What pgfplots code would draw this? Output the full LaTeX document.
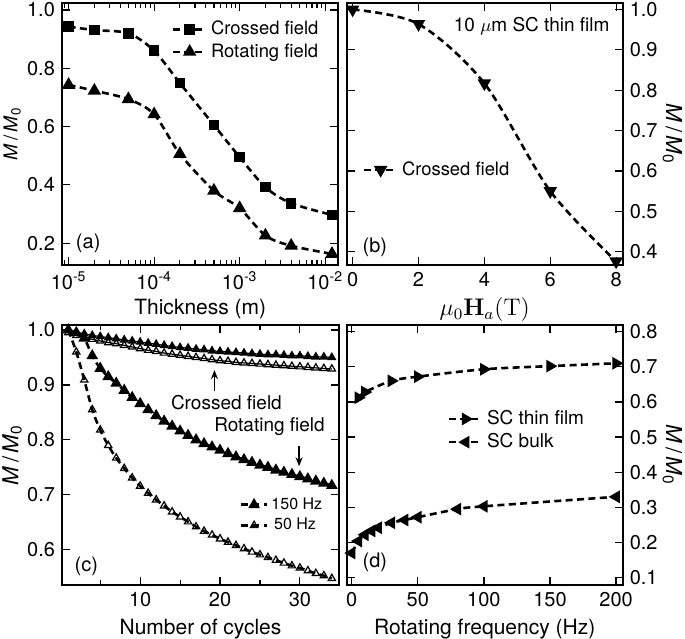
\documentclass[border=0pt]{standalone}
\usepackage[no-math]{fontspec}
\setmainfont{TeX Gyre Heros}
\usepackage{pgfplots}
\pgfplotsset{compat=1.18}
\usetikzlibrary{arrows.meta}

\newcommand{\fs}[1]{\fontsize{#1}{#1}\selectfont}
\newcommand{\MM}{\textit{M}\,/\,\textit{M}\textsubscript{0}}

\pgfplotsset{
  panel/.style={
    scale only axis, anchor=south west,
    axis line style={line width=1pt},
    tick align=inside, tick pos=both,
    major tick length=4pt, minor tick length=2.5pt,
    tick style={black, line width=0.6pt},
    tick label style={font=\fs{10}},
    xlabel style={font=\fs{10.5}, at={(axis description cs:0.5,-0.17)}, anchor=center},
    /pgf/number format/assume math mode=true,
    yticklabel style={/pgf/number format/.cd, fixed, fixed zerofill, precision=1},
    legend style={draw=none, fill=none, inner sep=0pt, font=\fs{9.2},
      nodes={inner sep=1.5pt}},
    legend cell align=left,
  },
  dsh/.style={black, line width=1.3pt, dash pattern=on 3.5pt off 2.2pt, smooth},
}

\begin{document}
\begin{tikzpicture}
\path[use as bounding box] (0,0) rectangle (342.5pt,319pt);

% (a) thickness
\begin{axis}[panel, at={(31pt,186.5pt)}, width=138.25pt, height=131pt,
  xmode=log, xmin=8.37e-6, xmax=1.43e-2, ymin=0.125, ymax=1.024,
  xtick={1e-5,1e-4,1e-3,1e-2},
  xticklabels={10\textsuperscript{-5},10\textsuperscript{-4},10\textsuperscript{-3},10\textsuperscript{-2}},
  minor xtick={9e-6,2e-5,3e-5,4e-5,5e-5,6e-5,7e-5,8e-5,9e-5,2e-4,3e-4,4e-4,5e-4,6e-4,7e-4,8e-4,9e-4,2e-3,3e-3,4e-3,5e-3,6e-3,7e-3,8e-3,9e-3},
  ytick={0.2,0.4,0.6,0.8,1.0},
  xlabel={Thickness (m)},
  ylabel={\MM}, ylabel style={font=\fs{9.5}, at={(axis description cs:-0.18,0.5)}, anchor=center},
  legend style={at={(axis description cs:0.394,0.857)}, anchor=west},
]
\addplot[dsh, mark=square*, mark size=2pt, mark options={solid}] coordinates {
  (1e-5,0.943) (2e-5,0.931) (5e-5,0.920) (1e-4,0.860) (2e-4,0.749)
  (5e-4,0.605) (1e-3,0.495) (2e-3,0.392) (4e-3,0.337) (1.2e-2,0.297)};
\addlegendentry{Crossed field}
\addplot[dsh, mark=triangle*, mark size=2.6pt, mark options={solid}] coordinates {
  (1e-5,0.743) (2e-5,0.723) (5e-5,0.694) (1e-4,0.642) (2e-4,0.506)
  (5e-4,0.380) (1e-3,0.320) (2e-3,0.226) (4e-3,0.191) (1.2e-2,0.163)};
\addlegendentry{Rotating field}
\node[anchor=west, font=\fs{10}] at (axis description cs:0.025,0.084) {(a)};
\end{axis}

% (b) applied field
\begin{axis}[panel, at={(173.35pt,186.5pt)}, width=138pt, height=131pt,
  xmin=-0.18, xmax=8.2, ymin=0.367, ymax=1.016,
  xtick={0,2,4,6,8}, ytick={0.4,0.5,0.6,0.7,0.8,0.9,1.0},
  xticklabel style={/pgf/number format/.cd, fixed, precision=0},
  yticklabel pos=right,
  xlabel={$\mu_0\mathbf{H}_a(\mathrm{T})$}, xlabel style={font=\fs{12}},
  ylabel={\MM}, ylabel style={font=\fs{11}, at={(axis description cs:1.18,0.5)}, anchor=center, rotate=180},
  legend style={at={(axis description cs:0.055,0.363)}, anchor=west},
]
\addplot[dsh, mark=triangle*, mark size=2.6pt, mark options={solid, rotate=180}] coordinates {
  (0,1.0) (2,0.964) (4,0.817) (6,0.550) (8,0.376)};
\addlegendentry{Crossed field}
\node[anchor=east, font=\fs{9.5}] at (axis description cs:0.978,0.91) {10 $\mu$m SC thin film};
\node[anchor=west, font=\fs{10}] at (axis description cs:0.032,0.067) {(b)};
\end{axis}

% (c) number of cycles
\begin{axis}[panel, at={(31pt,26.5pt)}, width=138.5pt, height=130pt,
  xmin=0.21, xmax=34.9, ymin=0.536, ymax=1.009,
  xtick={10,20,30}, minor xtick={5,15,25},
  xticklabel style={/pgf/number format/.cd, fixed, precision=0},
  ytick={0.6,0.7,0.8,0.9,1.0},
  xlabel={Number of cycles},
  ylabel={\MM}, ylabel style={font=\fs{11}, at={(axis description cs:-0.18,0.5)}, anchor=center},
  legend style={at={(axis description cs:0.64,0.269)}, anchor=west, font=\fs{8}},
  legend image code/.code={\draw[mark repeat=2, mark phase=2] plot coordinates {(0cm,0cm) (0.23cm,0cm) (0.46cm,0cm)};},
]
% crossed field, 150 Hz
\addplot[black, line width=0.6pt, mark=triangle*, mark size=2.1pt, forget plot] coordinates {
  (1,1.000) (2,0.996) (3,0.993) (4,0.990) (5,0.988) (6,0.986) (7,0.984) (8,0.982)
  (9,0.980) (10,0.978) (11,0.976) (12,0.974) (13,0.972) (14,0.970) (15,0.968)
  (16,0.967) (17,0.965) (18,0.964) (19,0.962) (20,0.961) (21,0.960) (22,0.959)
  (23,0.958) (24,0.957) (25,0.956) (26,0.955) (27,0.955) (28,0.954) (29,0.953)
  (30,0.953) (31,0.952) (32,0.951) (33,0.951) (34,0.950)};
% crossed field, 50 Hz
\addplot[black, line width=0.6pt, mark=triangle, mark size=2.1pt, mark options={fill=white}, forget plot] coordinates {
  (1,0.995) (2,0.990) (3,0.986) (4,0.983) (5,0.980) (6,0.977) (7,0.975) (8,0.972)
  (9,0.969) (10,0.966) (11,0.963) (12,0.961) (13,0.958) (14,0.956) (15,0.954)
  (16,0.952) (17,0.950) (18,0.948) (19,0.946) (20,0.944) (21,0.943) (22,0.941)
  (23,0.940) (24,0.939) (25,0.938) (26,0.937) (27,0.936) (28,0.935) (29,0.934)
  (30,0.933) (31,0.932) (32,0.931) (33,0.930) (34,0.929)};
% rotating field, 150 Hz
\addplot[dsh, mark=triangle*, mark size=2.1pt, mark options={solid}] coordinates {
  (1,1.000) (2,0.995) (3,0.985) (4,0.953) (5,0.930) (6,0.915) (7,0.903) (8,0.890)
  (9,0.877) (10,0.866) (11,0.855) (12,0.844) (13,0.834) (14,0.825) (15,0.816)
  (16,0.808) (17,0.800) (18,0.793) (19,0.787) (20,0.781) (21,0.775) (22,0.769)
  (23,0.764) (24,0.759) (25,0.754) (26,0.750) (27,0.745) (28,0.741) (29,0.737)
  (30,0.733) (31,0.729) (32,0.725) (33,0.721) (34,0.717)};
\addlegendentry{150 Hz}
% rotating field, 50 Hz
\addplot[dsh, mark=triangle, mark size=2.1pt, mark options={solid, fill=white, line width=0.6pt}] coordinates {
  (1,1.000) (2,0.960) (3,0.909) (4,0.855) (5,0.818) (6,0.790) (7,0.767) (8,0.748)
  (9,0.731) (10,0.716) (11,0.703) (12,0.691) (13,0.680) (14,0.669) (15,0.660)
  (16,0.651) (17,0.642) (18,0.634) (19,0.627) (20,0.620) (21,0.614) (22,0.608)
  (23,0.602) (24,0.596) (25,0.591) (26,0.586) (27,0.581) (28,0.576) (29,0.571)
  (30,0.567) (31,0.562) (32,0.557) (33,0.553) (34,0.548)};
\addlegendentry{\,50 Hz}
\node[font=\fs{9.5}] at (axis cs:20.8,0.867) {Crossed field};
\draw[-{Stealth[length=4.5pt,width=3.5pt]}, line width=0.7pt] (axis cs:19.3,0.889) -- (axis cs:19.3,0.927);
\node[font=\fs{9.5}] at (axis cs:26.2,0.824) {Rotating field};
\draw[-{Stealth[length=4.5pt,width=3.5pt]}, line width=0.7pt] (axis cs:29.9,0.788) -- (axis cs:29.9,0.752);
\node[anchor=west, font=\fs{10}] at (axis description cs:0.02,0.073) {(c)};
\end{axis}

% (d) rotating frequency
\begin{axis}[panel, at={(173.35pt,26.5pt)}, width=138pt, height=130pt,
  xmin=-3.8, xmax=205, ymin=0.079, ymax=0.819,
  xtick={0,50,100,150,200}, ytick={0.1,0.2,0.3,0.4,0.5,0.6,0.7,0.8},
  xticklabel style={/pgf/number format/.cd, fixed, precision=0},
  yticklabel pos=right,
  xlabel={Rotating frequency (Hz)},
  ylabel={\MM}, ylabel style={font=\fs{11}, at={(axis description cs:1.18,0.5)}, anchor=center, rotate=180},
  legend style={at={(axis description cs:0.363,0.594)}, anchor=west, font=\fs{9.5}},
]
\addplot[dsh, mark=triangle*, mark size=2.4pt, mark options={solid, rotate=-90}] coordinates {
  (5,0.612) (10,0.628) (30,0.660) (50,0.672) (100,0.693) (150,0.702) (200,0.710)};
\addlegendentry{SC thin film}
\addplot[dsh, mark=triangle*, mark size=2.4pt, mark options={solid, rotate=90}] coordinates {
  (0,0.170) (5,0.204) (10,0.222) (15,0.233) (20,0.242) (30,0.256) (40,0.264)
  (50,0.272) (80,0.295) (100,0.303) (200,0.330)};
\addlegendentry{SC bulk}
\node[anchor=west, font=\fs{10}] at (axis description cs:0.032,0.088) {(d)};
\end{axis}
\end{tikzpicture}
\end{document}
